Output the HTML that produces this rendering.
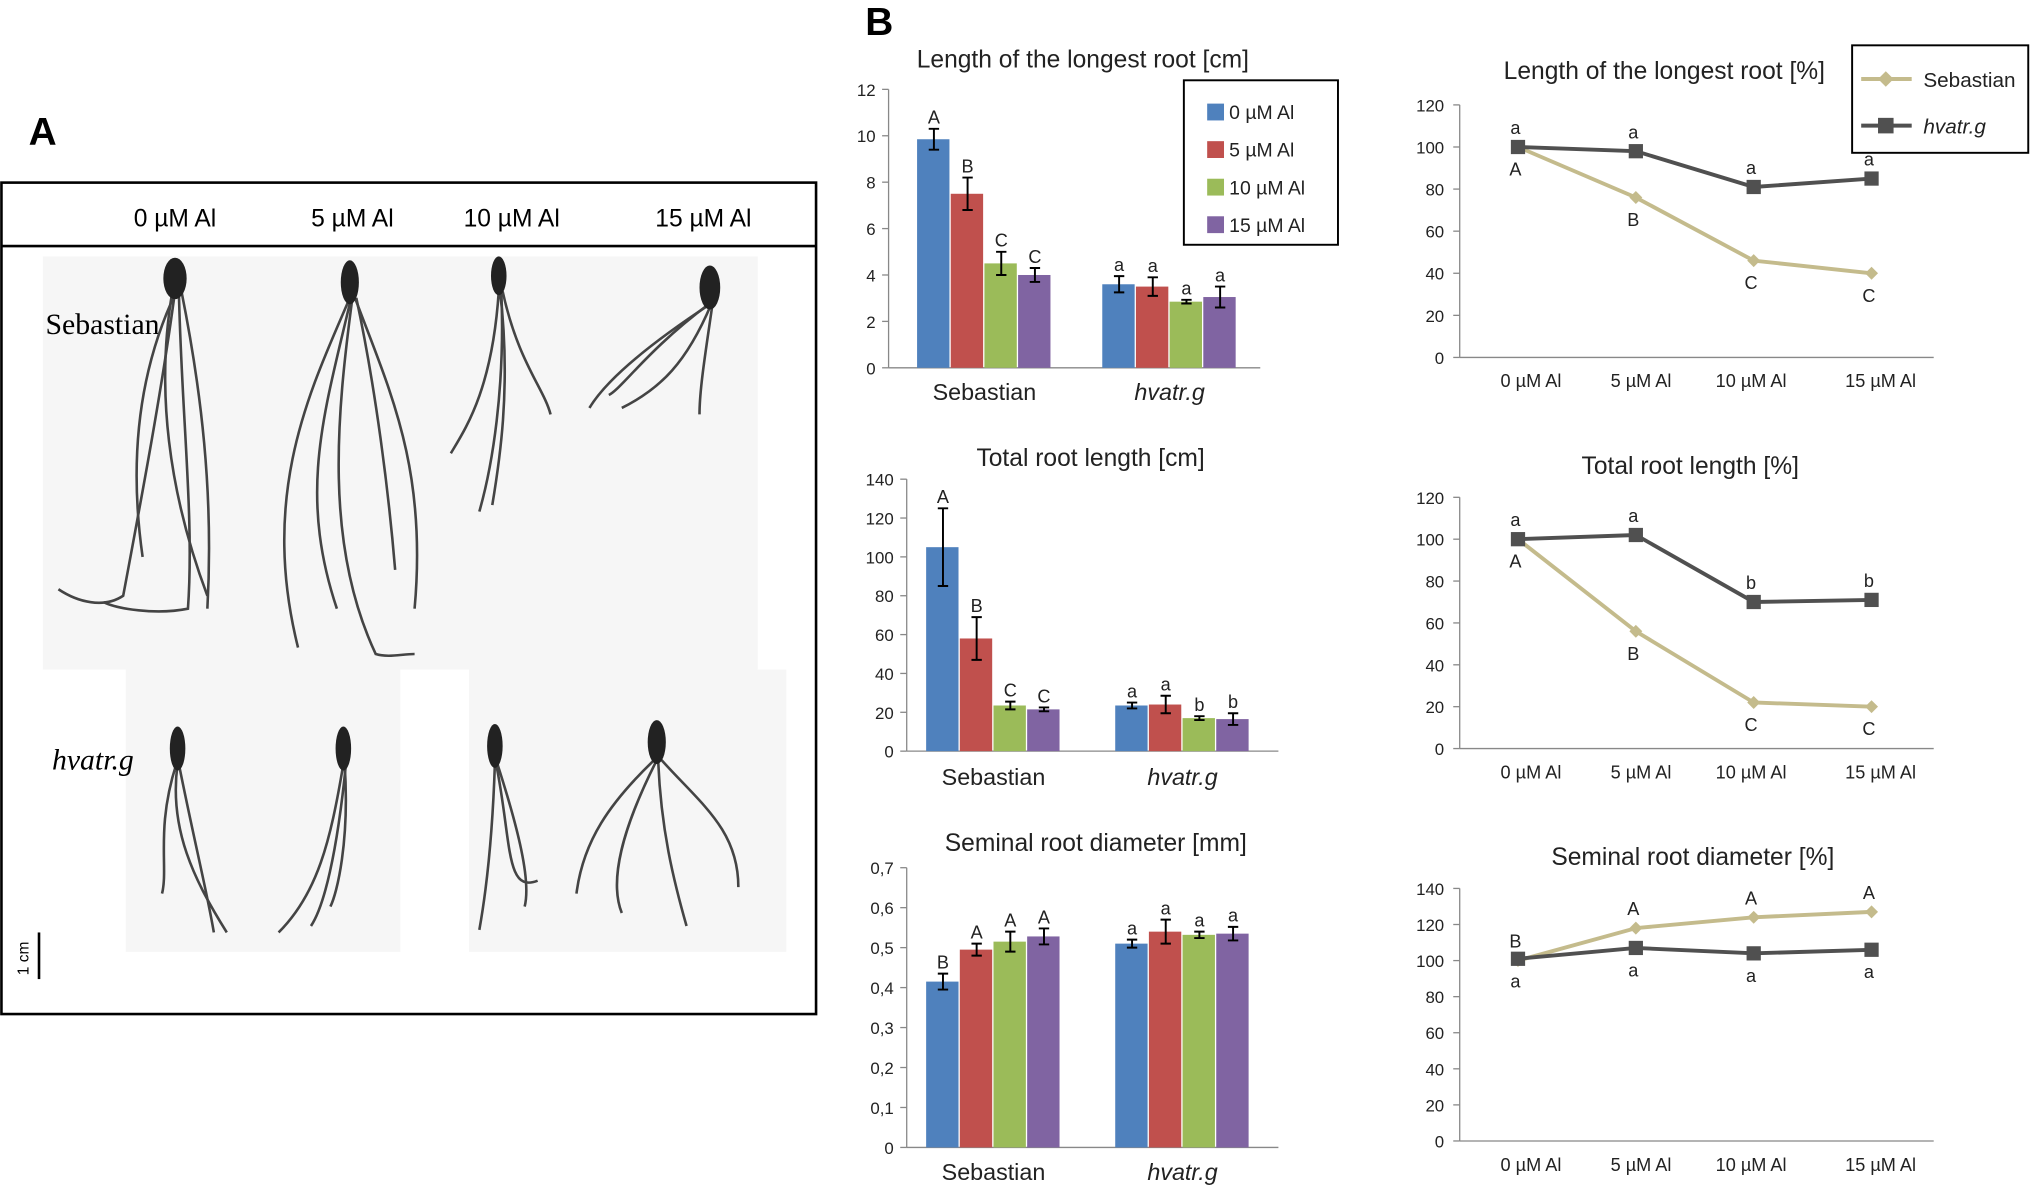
<!DOCTYPE html>
<html><head><meta charset="utf-8">
<style>
html,body{margin:0;padding:0;background:#fff;}
svg{display:block;font-family:"Liberation Sans",sans-serif;}
</style></head>
<body>
<svg id="fig" width="2031" height="1185" viewBox="0 0 1568 915" xmlns="http://www.w3.org/2000/svg">
<g id="panelA">
  <text x="22" y="112" font-size="30" font-weight="bold">A</text>
  <rect x="1" y="141" width="629" height="642" fill="#fff" stroke="#000" stroke-width="2"/>
  <line x1="1" y1="190" x2="630" y2="190" stroke="#000" stroke-width="2"/>
  <text x="135" y="175" font-size="19" text-anchor="middle">0 µM Al</text>
  <text x="272" y="175" font-size="19" text-anchor="middle">5 µM Al</text>
  <text x="395" y="175" font-size="19" text-anchor="middle">10 µM Al</text>
  <text x="543" y="175" font-size="19" text-anchor="middle">15 µM Al</text>
  <rect x="33" y="198" width="552" height="319" fill="#f6f6f6"/>
  <rect x="97" y="517" width="212" height="218" fill="#f6f6f6"/>
  <rect x="362" y="517" width="245" height="218" fill="#f6f6f6"/>
  <text x="35" y="258" font-size="23" font-family="Liberation Serif,serif">Sebastian</text>
  <text x="40" y="594" font-size="23" font-style="italic" font-family="Liberation Serif,serif">hvatr.g</text>
  <g stroke="#444" fill="none" stroke-width="2">
    <path d="M135 225 C125 300 110 380 95 460 C80 470 60 465 45 455"/><path d="M138 225 C140 320 150 400 145 470 C120 475 90 470 80 465"/>
    <path d="M133 225 C120 300 130 380 160 460"/><path d="M140 225 C155 300 165 380 160 470"/><path d="M136 225 C105 290 100 360 110 430"/>
    <path d="M270 230 C240 300 200 380 230 500"/><path d="M272 230 C260 320 250 420 290 505 C300 508 310 505 320 505"/><path d="M274 230 C300 300 330 360 320 470"/><path d="M271 230 C250 320 230 380 260 470"/><path d="M275 230 C290 300 300 380 305 440"/>
    <path d="M385 225 C380 300 360 330 348 350"/><path d="M387 225 C390 300 380 360 370 395"/><path d="M388 225 C400 280 420 300 425 320"/><path d="M386 225 C395 300 385 360 380 390"/>
    <path d="M548 235 C510 260 470 290 455 315"/><path d="M549 235 C530 280 510 300 480 315"/><path d="M550 235 C545 270 540 300 540 320"/><path d="M547 235 C500 270 480 300 470 305"/>
    <path d="M137 590 C130 640 150 680 175 720"/><path d="M138 590 C150 650 160 690 165 720"/><path d="M136 590 C120 640 130 670 125 690"/>
    <path d="M265 590 C255 650 245 690 215 720"/><path d="M267 590 C260 660 250 700 240 715"/><path d="M266 590 C270 650 260 690 255 700"/>
    <path d="M382 590 C380 650 375 690 370 718"/><path d="M384 590 C400 640 410 680 405 700"/><path d="M383 590 C395 650 390 690 415 680"/>
    <path d="M507 585 C470 620 450 650 445 690"/><path d="M509 585 C540 620 570 640 570 685"/><path d="M508 585 C510 640 520 680 530 715"/><path d="M508 585 C480 640 470 680 480 705"/>
  </g>
  <g fill="#222">
    <ellipse cx="135" cy="215" rx="9" ry="16"/><ellipse cx="270" cy="218" rx="7" ry="17"/><ellipse cx="385" cy="213" rx="6" ry="15"/><ellipse cx="548" cy="222" rx="8" ry="17"/>
    <ellipse cx="137" cy="578" rx="6" ry="17"/><ellipse cx="265" cy="578" rx="6" ry="17"/><ellipse cx="382" cy="576" rx="6" ry="17"/><ellipse cx="507" cy="573" rx="7" ry="17"/>
  </g>
  <line x1="30" y1="720" x2="30" y2="756" stroke="#000" stroke-width="2"/>
  <text x="22" y="740" font-size="12" transform="rotate(-90 22 740)" text-anchor="middle">1 cm</text>
</g>
<text x="668" y="27" font-size="30" font-weight="bold">B</text>
<g id="charts"></g>
</svg>
<script>
// ---- data ----
const groups = ['Sebastian', 'hvatr.g'];
const doses = ['0 µM Al', '5 µM Al', '10 µM Al', '15 µM Al'];
const colors = ['#4f81bd', '#c0504d', '#9bbb59', '#8064a2'];
const longSeb = [9.85, 7.5, 4.5, 4.0];
const longHv = [3.6, 3.5, 2.85, 3.05];
const longSebErr = [0.45, 0.7, 0.5, 0.3];
const longHvErr = [0.35, 0.4, 0.08, 0.45];
const longSebLet = ['A', 'B', 'C', 'C'];
const longHvLet = ['a', 'a', 'a', 'a'];
const longTicks = ['0', '2', '4', '6', '8', '10', '12'];
const totSeb = [105, 58, 23.5, 21.5];
const totHv = [23.5, 24, 17, 16.5];
const totSebErr = [20, 11, 2, 1];
const totHvErr = [1.5, 4.5, 1, 3];
const totSebLet = ['A', 'B', 'C', 'C'];
const totHvLet = ['a', 'a', 'b', 'b'];
const totTicks = ['0', '20', '40', '60', '80', '100', '120', '140'];
const diaSeb = [0.415, 0.495, 0.515, 0.528];
const diaHv = [0.51, 0.54, 0.532, 0.535];
const diaSebErr = [0.02, 0.015, 0.025, 0.02];
const diaHvErr = [0.01, 0.03, 0.008, 0.017];
const diaSebLet = ['B', 'A', 'A', 'A'];
const diaHvLet = ['a', 'a', 'a', 'a'];
const diaTicks = ['0', '0,1', '0,2', '0,3', '0,4', '0,5', '0,6', '0,7'];
const pLongSeb = [100, 76, 46, 40];
const pLongHv = [100, 98, 81, 85];
const pLongSebLet = ['A', 'B', 'C', 'C'];
const pLongHvLet = ['a', 'a', 'a', 'a'];
const pTotSeb = [100, 56, 22, 20];
const pTotHv = [100, 102, 70, 71];
const pTotSebLet = ['A', 'B', 'C', 'C'];
const pTotHvLet = ['a', 'a', 'b', 'b'];
const pDiaSeb = [100, 118, 124, 127];
const pDiaHv = [101, 107, 104, 106];
const pDiaSebLet = ['B', 'A', 'A', 'A'];
const pDiaHvLet = ['a', 'a', 'a', 'a'];
const pTicks120 = ['0', '20', '40', '60', '80', '100', '120'];
const pTicks140 = ['0', '20', '40', '60', '80', '100', '120', '140'];

const NS = 'http://www.w3.org/2000/svg';
const root = document.getElementById('charts');
function mk(tag, attrs, parent, txt) {
  const e = document.createElementNS(NS, tag);
  for (const k in attrs) e.setAttribute(k, attrs[k]);
  if (txt !== undefined) e.textContent = txt;
  (parent || root).appendChild(e);
  return e;
}

function barChart(o) {
  const g = mk('g', {});
  
  
  const maxV = parseFloat(o.ticks[o.ticks.length - 1].replace(',', '.'));
  const y = v => o.y0 - (v / maxV) * (o.y0 - o.yTop);
  const t = mk('text', {x: o.titleX, y: o.titleY, 'font-size': 19, 'text-anchor': 'middle', fill: '#222'}, g, o.title);
  
  
  o.ticks.forEach((lab, i) => {
    const v = parseFloat(lab.replace(',', '.'));
    const yy = y(v);
    mk('line', {x1: o.ax - 5, x2: o.ax, y1: yy, y2: yy, stroke: '#888'}, g);
    const tl = mk('text', {x: o.ax - 10, y: yy + 5, 'font-size': 13, 'text-anchor': 'end', fill: '#222'}, g, lab);
    
    
  });
  mk('line', {x1: o.ax, x2: o.ax, y1: o.yTop, y2: o.y0, stroke: '#888'}, g);
  mk('line', {x1: o.ax, x2: o.axEnd, y1: o.y0, y2: o.y0, stroke: '#888'}, g);
  const sets = [[o.seb, o.sebErr, o.sebLet], [o.hv, o.hvErr, o.hvLet]];
  sets.forEach((s, gi) => {
    const start = o.gStart[gi];
    s[0].forEach((v, i) => {
      const x = start + i * o.bw;
      const r = mk('rect', {x: x, y: y(v), width: o.bw - 1, height: o.y0 - y(v), fill: colors[i]}, g);
      
      
      const cx = x + o.bw / 2, e = s[1][i];
      mk('path', {d: `M${cx} ${y(v + e)}V${y(v - e)}M${cx - 4} ${y(v + e)}H${cx + 4}M${cx - 4} ${y(v - e)}H${cx + 4}`, stroke: '#000', 'stroke-width': 1.5, fill: 'none'}, g);
      const lt = mk('text', {x: cx, y: y(v + e) - 4, 'font-size': 14, 'text-anchor': 'middle', fill: '#222'}, g, s[2][i]);
      
      
    });
    const cl = mk('text', {x: start + 2 * o.bw, y: o.catY, 'font-size': 18, 'text-anchor': 'middle', fill: '#222', 'font-style': gi ? 'italic' : 'normal'}, g, groups[gi]);
    
    
  });
}

function lineChart(o) {
  const g = mk('g', {});
  
  
  const maxV = parseFloat(o.ticks[o.ticks.length - 1]);
  const y = v => o.y0 - (v / maxV) * (o.y0 - o.yTop);
  const xs = i => o.x0 + i * o.dx;
  const t = mk('text', {x: o.titleX, y: o.titleY, 'font-size': 19, 'text-anchor': 'middle', fill: '#222'}, g, o.title);
  
  
  o.ticks.forEach(lab => {
    const yy = y(parseFloat(lab));
    mk('line', {x1: o.ax - 5, x2: o.ax, y1: yy, y2: yy, stroke: '#888'}, g);
    const tl = mk('text', {x: o.ax - 12, y: yy + 5, 'font-size': 13, 'text-anchor': 'end', fill: '#222'}, g, lab);
    
    
  });
  mk('line', {x1: o.ax, x2: o.ax, y1: o.yTop, y2: o.y0, stroke: '#888'}, g);
  mk('line', {x1: o.ax, x2: o.axEnd, y1: o.y0, y2: o.y0, stroke: '#888'}, g);
  doses.forEach((d, i) => {
    const xl = mk('text', {x: o.xlab[i], y: o.y0 + 23, 'font-size': 14, 'text-anchor': 'middle', fill: '#222'}, g, d);
    
    
  });
  const seb = mk('polyline', {points: o.seb.map((v, i) => xs(i) + ',' + y(v)).join(' '), fill: 'none', stroke: '#c4bb8c', 'stroke-width': 3}, g);
  
  
  o.seb.forEach((v, i) => {
    const p = mk('path', {d: `M${xs(i)} ${y(v) - 5}l5 5l-5 5l-5 -5z`, fill: '#c4bb8c'}, g);
    
    
  });
  const hv = mk('polyline', {points: o.hv.map((v, i) => xs(i) + ',' + y(v)).join(' '), fill: 'none', stroke: '#505050', 'stroke-width': 3}, g);
  
  
  o.hv.forEach((v, i) => {
    const p = mk('rect', {x: xs(i) - 5.5, y: y(v) - 5.5, width: 11, height: 11, fill: '#505050'}, g);
    
    
  });
  o.seb.forEach((v, i) => {
    const ly = o.sebAbove ? y(v) - 10 : y(v) + 22;
    const l = mk('text', {x: xs(i) - 2, y: ly, 'font-size': 14, 'text-anchor': 'middle', fill: '#222'}, g, o.sebLet[i]);
    
    
  });
  o.hv.forEach((v, i) => {
    const ly = o.sebAbove ? y(v) + 22 : y(v) - 10;
    const l = mk('text', {x: xs(i) - 2, y: ly, 'font-size': 14, 'text-anchor': 'middle', fill: '#222'}, g, o.hvLet[i]);
    
    
  });
}

barChart({name: 'chart-longest-root-cm', title: 'Length of the longest root [cm]', titleX: 836, titleY: 52, ticks: longTicks,
  ax: 686, axEnd: 973, y0: 284, yTop: 69, gStart: [708, 851], bw: 26, catY: 309,
  seb: longSeb, hv: longHv, sebErr: longSebErr, hvErr: longHvErr, sebLet: longSebLet, hvLet: longHvLet});
barChart({name: 'chart-total-root-cm', title: 'Total root length [cm]', titleX: 842, titleY: 360, ticks: totTicks,
  ax: 700, axEnd: 987, y0: 580, yTop: 370, gStart: [715, 861], bw: 26, catY: 606,
  seb: totSeb, hv: totHv, sebErr: totSebErr, hvErr: totHvErr, sebLet: totSebLet, hvLet: totHvLet});
barChart({name: 'chart-diameter-mm', title: 'Seminal root diameter [mm]', titleX: 846, titleY: 657, ticks: diaTicks,
  ax: 700, axEnd: 987, y0: 886, yTop: 670, gStart: [715, 861], bw: 26, catY: 911,
  seb: diaSeb, hv: diaHv, sebErr: diaSebErr, hvErr: diaHvErr, sebLet: diaSebLet, hvLet: diaHvLet});

lineChart({name: 'chart-longest-root-pct', title: 'Length of the longest root [%]', titleX: 1285, titleY: 61, ticks: pTicks120,
  ax: 1127, axEnd: 1493, y0: 276, yTop: 81, x0: 1172, dx: 91, xlab: [1182, 1267, 1352, 1452],
  seb: pLongSeb, hv: pLongHv, sebLet: pLongSebLet, hvLet: pLongHvLet, sebAbove: false});
lineChart({name: 'chart-total-root-pct', title: 'Total root length [%]', titleX: 1305, titleY: 366, ticks: pTicks120,
  ax: 1127, axEnd: 1493, y0: 578, yTop: 384, x0: 1172, dx: 91, xlab: [1182, 1267, 1352, 1452],
  seb: pTotSeb, hv: pTotHv, sebLet: pTotSebLet, hvLet: pTotHvLet, sebAbove: false});
lineChart({name: 'chart-diameter-pct', title: 'Seminal root diameter [%]', titleX: 1307, titleY: 668, ticks: pTicks140,
  ax: 1127, axEnd: 1493, y0: 881, yTop: 686, x0: 1172, dx: 91, xlab: [1182, 1267, 1352, 1452],
  seb: pDiaSeb, hv: pDiaHv, sebLet: pDiaSebLet, hvLet: pDiaHvLet, sebAbove: true});

// legends
const lg = mk('g', {});


mk('rect', {x: 914, y: 62, width: 119, height: 127, fill: '#fff', stroke: '#000', 'stroke-width': 1.5}, lg);
doses.forEach((d, i) => {
  mk('rect', {x: 932, y: 80 + i * 29, width: 13, height: 13, fill: colors[i]}, lg);
  const t = mk('text', {x: 949, y: 92 + i * 29, 'font-size': 15, fill: '#222'}, lg, d);
  
  
});
const ll = mk('g', {});


mk('rect', {x: 1430, y: 35, width: 136, height: 83, fill: '#fff', stroke: '#000', 'stroke-width': 1.5}, ll);
mk('line', {x1: 1437, x2: 1476, y1: 61, y2: 61, stroke: '#c4bb8c', 'stroke-width': 3}, ll);
mk('path', {d: 'M1456 55l6 6l-6 6l-6 -6z', fill: '#c4bb8c'}, ll);
const l1 = mk('text', {x: 1485, y: 67, 'font-size': 16, fill: '#222'}, ll, 'Sebastian');


mk('line', {x1: 1437, x2: 1476, y1: 97, y2: 97, stroke: '#505050', 'stroke-width': 3}, ll);
mk('rect', {x: 1450, y: 91, width: 12, height: 12, fill: '#505050'}, ll);
const l2 = mk('text', {x: 1485, y: 103, 'font-size': 16, 'font-style': 'italic', fill: '#222'}, ll, 'hvatr.g');


</script>
</body></html>
